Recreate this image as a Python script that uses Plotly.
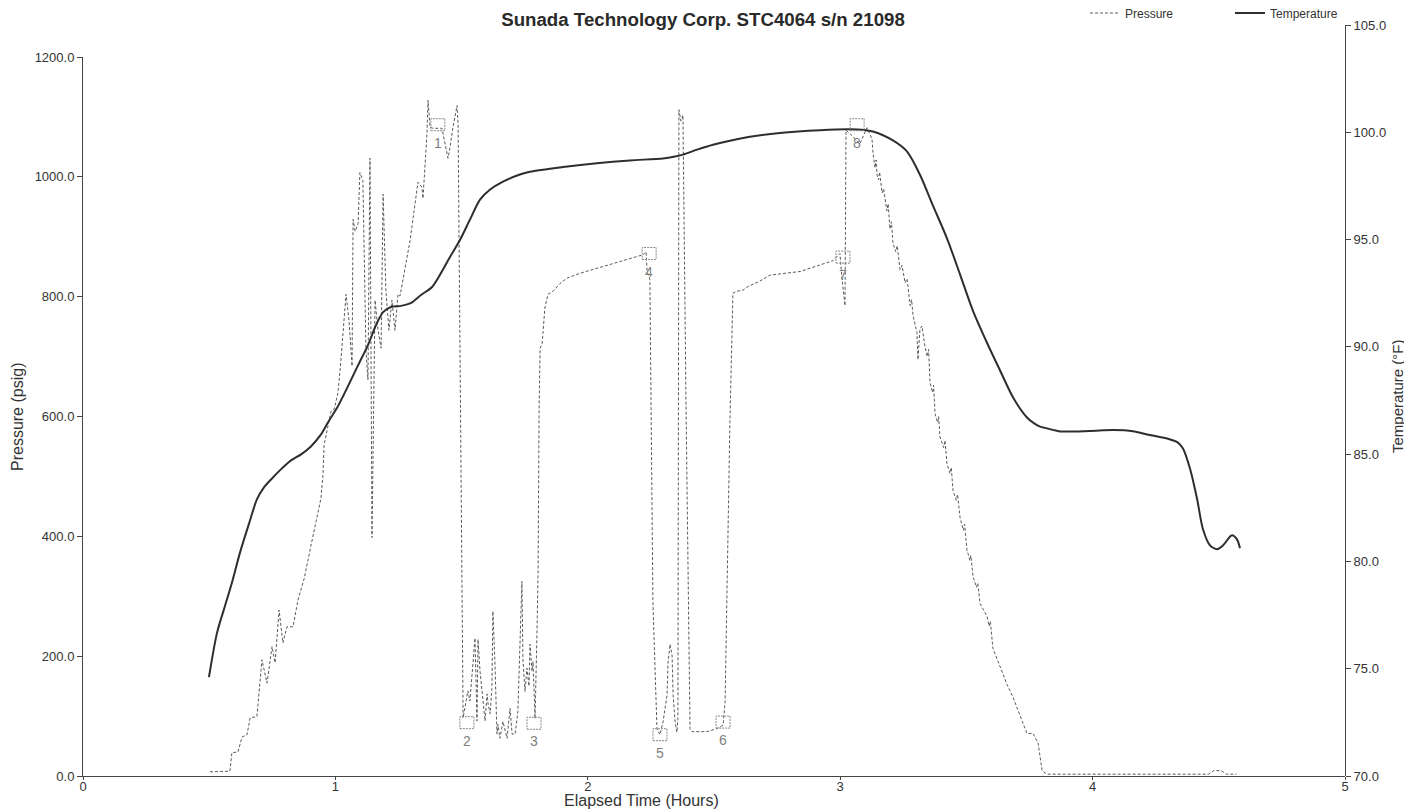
import plotly.graph_objects as go

# ---------------- data ----------------
pressure_hours = [
    0.503, 0.582, 0.590, 0.614, 0.630, 0.650, 0.662, 0.689, 0.709, 0.729,
    0.749, 0.761, 0.777, 0.792, 0.808, 0.832, 0.852, 0.876, 0.903, 0.931,
    0.943, 0.951, 0.955, 0.971, 0.983, 0.995, 1.010, 1.022, 1.034, 1.042,
    1.054, 1.066, 1.070, 1.078, 1.090, 1.097, 1.109, 1.121, 1.129, 1.137,
    1.145, 1.157, 1.169, 1.181, 1.189, 1.200, 1.212, 1.224, 1.236, 1.248,
    1.256, 1.296, 1.327, 1.343, 1.347, 1.363, 1.367, 1.375, 1.387, 1.422,
    1.426, 1.446, 1.454, 1.466, 1.482, 1.486, 1.506,
    1.525, 1.533, 1.545, 1.553, 1.561, 1.565, 1.573, 1.581, 1.593, 1.601,
    1.605, 1.613, 1.620, 1.624, 1.632, 1.640, 1.644, 1.652, 1.664, 1.680,
    1.692, 1.700, 1.712, 1.723, 1.739, 1.743, 1.751, 1.759, 1.767, 1.771,
    1.779, 1.783, 1.791, 1.799, 1.803, 1.807, 1.811, 1.819, 1.830, 1.842,
    1.862, 1.890, 1.918, 1.969, 2.036, 2.100, 2.167, 2.219, 2.231, 2.235,
    2.246, 2.258,
    2.274, 2.286, 2.298, 2.314, 2.318, 2.326, 2.334, 2.338, 2.346, 2.353,
    2.357, 2.361, 2.369, 2.377, 2.389, 2.405, 2.413, 2.472, 2.512, 2.536,
    2.544, 2.563, 2.575, 2.591, 2.615, 2.635, 2.682, 2.722, 2.841, 2.920,
    2.971, 2.999, 3.007, 3.019, 3.023,
    3.051, 3.078, 3.106, 3.126, 3.130, 3.138, 3.142, 3.146, 3.152, 3.156,
    3.166, 3.172, 3.185, 3.190, 3.197, 3.203, 3.209, 3.220, 3.226, 3.237,
    3.245, 3.257, 3.265, 3.277, 3.283, 3.288, 3.304, 3.308, 3.316, 3.324,
    3.336, 3.345, 3.350, 3.356, 3.366, 3.370, 3.376, 3.386, 3.390, 3.395,
    3.410, 3.415, 3.423, 3.435, 3.440, 3.447, 3.460, 3.465, 3.475, 3.488,
    3.493, 3.502, 3.514, 3.518, 3.526, 3.540, 3.545, 3.554, 3.582, 3.590,
    3.595, 3.605, 3.633, 3.661, 3.685, 3.712, 3.740, 3.764, 3.784, 3.800,
    3.819, 4.000, 4.200, 4.460, 4.480, 4.510, 4.530, 4.570,
]
pressure_psig = [
    7, 8, 39, 40, 65, 69, 97, 99, 194, 155,
    216, 189, 277, 222, 249, 249, 294, 329, 384, 437,
    464, 504, 552, 585, 609, 612, 639, 694, 760, 804,
    760, 684, 929, 909, 922, 1007, 994, 711, 661, 1031,
    398, 794, 744, 714, 971, 811, 744, 794, 744, 804,
    801, 894, 991, 983, 964, 1073, 1128, 1083, 1081, 1081,
    1073, 1031, 1049, 1083, 1119, 1089, 97,
    142, 125, 186, 230, 92, 228, 175, 146, 92, 137,
    120, 104, 146, 275, 191, 70, 86, 63, 91, 63,
    113, 70, 70, 108, 325, 196, 141, 180, 150, 220,
    175, 191, 96, 246, 341, 609, 714, 721, 781, 804,
    809, 822, 831, 839, 847, 855, 863, 870, 875, 842,
    829, 290,
    79, 69, 90, 135, 190, 220, 201, 135, 90, 73,
    95, 1112, 1093, 1103, 624, 79, 74, 74, 79, 85,
    124, 590, 806, 809, 811, 817, 826, 836, 842, 853,
    860, 872, 830, 785, 1078,
    1067, 1055, 1082, 1063, 1040, 1015, 1028, 1003, 995, 1008,
    973, 980, 943, 955, 913, 925, 890, 875, 885, 845,
    852, 823, 830, 785, 795, 770, 740, 695, 746, 751,
    716, 700, 712, 656, 640, 652, 604, 590, 600, 566,
    548, 560, 521, 505, 515, 476, 460, 470, 431, 410,
    420, 378, 360, 368, 333, 315, 322, 288, 266, 250,
    258, 213, 183, 153, 131, 101, 71, 71, 55, 9,
    3, 3, 3, 3, 9, 9, 3, 3,
]

temp_hours = [
    0.499, 0.531, 0.559, 0.590, 0.622, 0.658, 0.689, 0.717, 0.745, 0.784,
    0.824, 0.864, 0.903, 0.943, 0.971, 1.010, 1.050, 1.090, 1.129, 1.161,
    1.189, 1.220, 1.260, 1.300, 1.339, 1.383, 1.454, 1.494, 1.533, 1.573,
    1.613, 1.664, 1.731, 1.771, 1.902, 2.036, 2.167, 2.298, 2.345, 2.377,
    2.433, 2.496, 2.563, 2.642, 2.761, 2.920, 3.039, 3.130, 3.209, 3.265,
    3.316, 3.368, 3.423, 3.475, 3.526, 3.582, 3.633, 3.685, 3.740, 3.770,
    3.792, 3.843, 3.871, 3.990, 4.081, 4.160, 4.216, 4.295, 4.338, 4.358,
    4.386, 4.414, 4.437, 4.465, 4.493, 4.517, 4.552, 4.572, 4.584,
]
temp_f = [
    74.61, 76.67, 77.79, 79.01, 80.41, 81.77, 82.89, 83.45, 83.82, 84.29,
    84.71, 84.99, 85.36, 85.92, 86.49, 87.23, 88.17, 89.15, 90.08, 91.02,
    91.62, 91.86, 91.91, 92.05, 92.42, 92.79, 94.19, 94.99, 95.93, 96.86,
    97.33, 97.70, 98.03, 98.16, 98.38, 98.56, 98.69, 98.78, 98.87, 98.96,
    99.19, 99.42, 99.61, 99.79, 99.97, 100.10, 100.14, 100.04, 99.62, 99.10,
    98.02, 96.57, 95.06, 93.37, 91.68, 90.18, 88.91, 87.64, 86.71, 86.42,
    86.28, 86.13, 86.06, 86.08, 86.12, 86.07, 85.92, 85.73, 85.54, 85.26,
    84.32, 82.91, 81.51, 80.75, 80.57, 80.75, 81.22, 81.03, 80.61,
]

event_labels = ["1", "2", "3", "4", "5", "6", "7", "8"]
event_hours = [1.406, 1.521, 1.787, 2.243, 2.286, 2.536, 3.011, 3.067]
event_psig = [1087, 89, 88, 872, 69, 90, 866, 1087]

x_ticks = [0, 1, 2, 3, 4, 5]
p_ticks = [0, 200, 400, 600, 800, 1000, 1200]
t_ticks = [70, 75, 80, 85, 90, 95, 100, 105]

title_text = "Sunada Technology Corp. STC4064 s/n 21098"

# ---------------- figure ----------------
FONT = "Liberation Sans, Arial, sans-serif"
INK = "#333333"
W, H = 1404, 802          # page adds an 8 px body margin
L, R, T, B = 75, 67, 17, 34
PW, PH = W - L - R, H - T - B


def px_x(page_x):
    return (page_x - 8 - L) / PW


def px_y(page_y):
    return 1 - (page_y - 8 - T) / PH


fig = go.Figure()

fig.add_trace(go.Scatter(
    x=pressure_hours, y=pressure_psig, name="Pressure", mode="lines",
    line=dict(color="#5a5a5a", width=1, dash="3px,2px"),
    xaxis="x", yaxis="y",
))
fig.add_trace(go.Scatter(
    x=temp_hours, y=temp_f, name="Temperature", mode="lines",
    line=dict(color="#2e2e2e", width=2, shape="spline", smoothing=0.8),
    xaxis="x", yaxis="y2",
))

shapes = []
annotations = []
for lab, h, p in zip(event_labels, event_hours, event_psig):
    shapes.append(dict(
        type="rect", xref="x", yref="y", xsizemode="pixel", ysizemode="pixel",
        xanchor=h, yanchor=p, x0=-7, x1=7, y0=-6, y1=6,
        line=dict(color="#888888", width=1, dash="2px,1px"),
    ))
    annotations.append(dict(
        text=lab, x=h, y=p, xref="x", yref="y", showarrow=False,
        yshift=-18, xanchor="center", yanchor="middle",
        font=dict(family=FONT, size=14, color="#808080"),
    ))

annotations += [
    dict(text="Pressure (psig)", xref="paper", yref="paper",
         x=px_x(17), y=px_y(417), textangle=-90,
         showarrow=False, xanchor="center", yanchor="middle",
         font=dict(family=FONT, size=16, color=INK)),
    dict(text="Temperature (°F)", xref="paper", yref="paper",
         x=px_x(1397), y=px_y(396), textangle=-90,
         showarrow=False, xanchor="center", yanchor="middle",
         font=dict(family=FONT, size=15, color=INK)),
    dict(text="Elapsed Time (Hours)", xref="paper", yref="paper",
         x=px_x(641), y=px_y(800),
         showarrow=False, xanchor="center", yanchor="middle",
         font=dict(family=FONT, size=16, color=INK)),
]

axis_common = dict(
    showgrid=False, zeroline=False, showline=True, linecolor="#444444",
    linewidth=1, ticks="outside", tickcolor="#444444",
    tickfont=dict(family=FONT, size=13, color=INK),
)

fig.update_layout(
    width=W, height=H,
    paper_bgcolor="white", plot_bgcolor="rgba(0,0,0,0)",
    margin=dict(l=L, r=R, t=T, b=B, autoexpand=False),
    font=dict(family=FONT, size=13, color=INK),
    showlegend=True,
    legend=dict(
        orientation="h", x=px_x(1085), y=px_y(13), xanchor="left",
        yanchor="middle",
        font=dict(family=FONT, size=12, color=INK), bgcolor="rgba(0,0,0,0)",
        itemwidth=30, entrywidth=100, entrywidthmode="pixels",
    ),
    title=dict(
        text="<b>" + title_text + "</b>", x=(703 - 8) / W, xref="container",
        xanchor="center", y=1 - (19 - 8) / H, yref="container",
        yanchor="middle",
        font=dict(family=FONT, size=18.7, color="#2a2a2a"),
    ),
    shapes=shapes,
    annotations=annotations,
    xaxis=dict(
        range=[0, 5], domain=[0, 1], anchor="y",
        tickvals=x_ticks, ticktext=[str(v) for v in x_ticks],
        ticklen=3, ticklabelstandoff=-5, **axis_common,
    ),
    yaxis=dict(
        range=[0, 1200], domain=[0, px_y(57)], anchor="x", side="left",
        tickvals=p_ticks, ticktext=[f"{v:.1f}" for v in p_ticks],
        ticklen=5, **axis_common,
    ),
    yaxis2=dict(
        range=[70, 105], domain=[0, 1], anchor="x", side="right",
        tickvals=t_ticks, ticktext=[f"{v:.1f}" for v in t_ticks],
        ticklen=5, **axis_common,
    ),
)

fig.write_html("out.html")
